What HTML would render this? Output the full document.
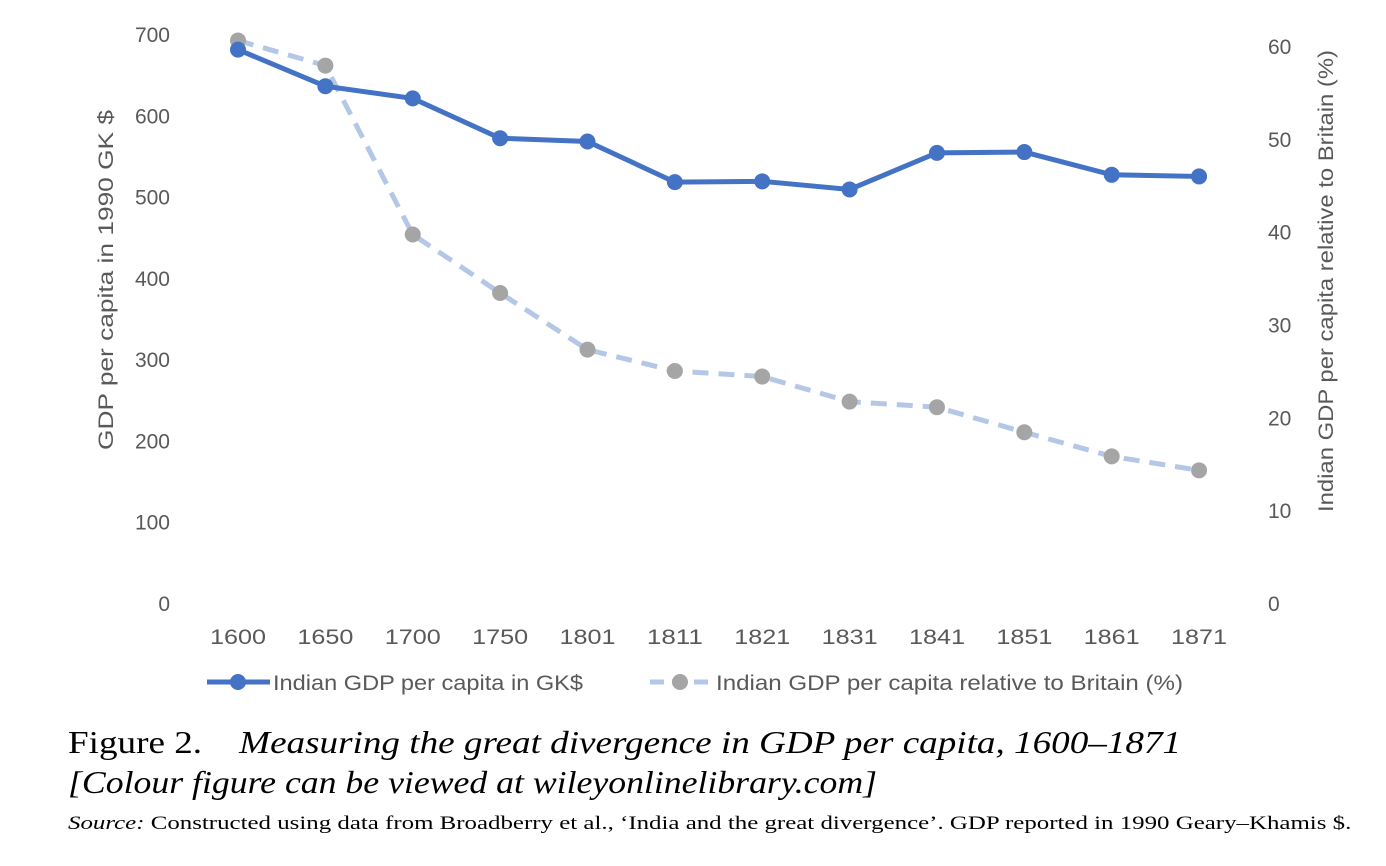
<!DOCTYPE html>
<html><head><meta charset="utf-8"><style>
html,body{margin:0;padding:0;background:#fff;width:1386px;height:866px;overflow:hidden}
svg{position:absolute;left:0;top:0}
.t{font-family:"Liberation Sans",sans-serif;fill:#595959;font-size:21px}
.cap{position:absolute;left:68px;font-family:"Liberation Serif",serif;color:#000;white-space:nowrap;transform-origin:0 0}
</style></head><body>
<svg width="1386" height="866" id="c"></svg>
<div class="cap" style="top:724px;font-size:32px;transform:scaleX(1.16)">Figure 2.&nbsp;&nbsp;&nbsp; <i>Measuring the great divergence in GDP per capita, 1600–1871</i></div>
<div class="cap" style="top:764px;font-size:32px;transform:scaleX(1.116)"><i>[Colour figure can be viewed at wileyonlinelibrary.com]</i></div>
<div class="cap" style="top:813px;font-size:19px;transform:scaleX(1.31)"><i>Source:</i> Constructed using data from Broadberry et al., ‘India and the great divergence’. GDP reported in 1990 Geary–Khamis $.</div>
<script>
const categories=["1600","1650","1700","1750","1801","1811","1821","1831","1841","1851","1861","1871"];
const gdpValues=[682,637,622,573,569,519,520,510,555,556,528,526];
const relValues=[60.7,58.0,39.8,33.5,27.4,25.1,24.5,21.8,21.2,18.5,15.9,14.4];
const leftTicks=[0,100,200,300,400,500,600,700];
const rightTicks=[0,10,20,30,40,50,60];
const svg=document.getElementById('c');
const NS='http://www.w3.org/2000/svg';
const x0=238,dx=87.37,yb=604;
const xs=i=>x0+i*dx;
const yL=v=>yb-v*(569/700);
const yR=v=>yb-v*(557/60);
function mk(t,a,p){const e=document.createElementNS(NS,t);for(const k in a)e.setAttribute(k,a[k]);(p||svg).appendChild(e);return e;}
leftTicks.forEach(v=>{const e=mk('text',{x:170,y:yL(v)+7,'text-anchor':'end',class:'t'});e.textContent=v;

});
rightTicks.forEach(v=>{const e=mk('text',{x:1268,y:yR(v)+7,class:'t'});e.textContent=v;

});
categories.forEach((c,i)=>{const e=mk('text',{x:xs(i),y:644,'text-anchor':'middle',class:'t',textLength:56,lengthAdjust:'spacingAndGlyphs'});e.textContent=c;

});
let t=mk('text',{x:0,y:0,'text-anchor':'middle',class:'t',transform:'translate(113,280) rotate(-90)',textLength:340,lengthAdjust:'spacingAndGlyphs'});t.textContent='GDP per capita in 1990 GK $';


t=mk('text',{x:0,y:0,'text-anchor':'middle',class:'t',transform:'translate(1333,281) rotate(-90)',textLength:462,lengthAdjust:'spacingAndGlyphs'});t.textContent='Indian GDP per capita relative to Britain (%)';


let d=relValues.map((v,i)=>(i?'L':'M')+xs(i)+','+yR(v)).join('');
let p=mk('path',{d:d,fill:'none',stroke:'#b4c7e7','stroke-width':5,'stroke-dasharray':'16,10'});


relValues.forEach((v,i)=>{const c=mk('circle',{cx:xs(i),cy:yR(v),r:8,fill:'#a5a5a5'});

});
d=gdpValues.map((v,i)=>(i?'L':'M')+xs(i)+','+yL(v)).join('');
p=mk('path',{d:d,fill:'none',stroke:'#4472c4','stroke-width':5});


gdpValues.forEach((v,i)=>{const c=mk('circle',{cx:xs(i),cy:yL(v),r:8,fill:'#4472c4'});

});
let l=mk('line',{x1:207,y1:682,x2:270,y2:682,stroke:'#4472c4','stroke-width':5});


l=mk('circle',{cx:238,cy:682,r:8,fill:'#4472c4'});


t=mk('text',{x:273,y:690,class:'t',textLength:310,lengthAdjust:'spacingAndGlyphs'});t.textContent='Indian GDP per capita in GK$';


l=mk('line',{x1:650,y1:682,x2:712,y2:682,stroke:'#b4c7e7','stroke-width':5,'stroke-dasharray':'14,8'});


l=mk('circle',{cx:680,cy:682,r:8,fill:'#a5a5a5'});


t=mk('text',{x:716,y:690,class:'t',textLength:467,lengthAdjust:'spacingAndGlyphs'});t.textContent='Indian GDP per capita relative to Britain (%)';


</script>
</body></html>
